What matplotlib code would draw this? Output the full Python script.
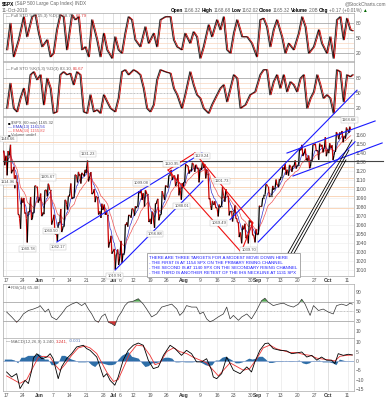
import numpy as np
import pandas as pd
import matplotlib
matplotlib.use("Agg")
import matplotlib.pyplot as plt
from matplotlib.collections import LineCollection

plt.rcParams['font.family'] = ['Liberation Sans', 'DejaVu Sans']

# $SPX daily OHLC, trading days 14-May-2010 .. 11-Oct-2010 (day index 0..103)
opens = [1140.50, 1136.52, 1138.52, 1119.57, 1107.34, 1067.26, 1084.78, 1067.42, 1075.51, 1074.27,
         1102.59, 1087.30, 1073.89, 1098.82, 1098.43, 1065.84, 1050.81, 1062.75, 1058.77, 1082.65,
         1095.00, 1091.21, 1114.02, 1115.98, 1116.16, 1122.79, 1113.90, 1095.57, 1090.93, 1075.10,
         1077.50, 1071.10, 1040.56, 1031.10, 1027.65, 1028.09, 1028.54, 1062.92, 1070.50, 1077.23,
         1080.65, 1095.61, 1094.46, 1093.85, 1066.85, 1064.53, 1086.67, 1072.14, 1092.17, 1102.89,
         1117.36, 1112.84, 1108.07, 1098.44, 1107.53, 1125.34, 1121.06, 1125.78, 1122.07, 1122.80,
         1122.92, 1116.89, 1081.48, 1082.22, 1077.49, 1081.16, 1092.08, 1092.44, 1075.63, 1073.36,
         1063.20, 1048.98, 1056.28, 1049.27, 1062.90, 1046.88, 1049.72, 1080.66, 1093.61, 1102.60,
         1092.36, 1101.15, 1104.57, 1113.38, 1121.16, 1119.43, 1123.89, 1126.39, 1126.57, 1142.82,
         1139.49, 1131.10, 1131.69, 1148.64, 1142.31, 1146.75, 1145.97, 1143.49, 1144.96, 1140.68,
         1159.81, 1161.57, 1158.36, 1165.32]
highs = [1142.10, 1141.88, 1148.66, 1124.27, 1107.34, 1090.16, 1089.95, 1074.75, 1090.75, 1103.52,
         1102.59, 1094.77, 1098.56, 1105.67, 1098.43, 1071.36, 1063.15, 1077.74, 1087.85, 1092.25,
         1105.91, 1115.59, 1118.74, 1117.72, 1121.01, 1131.23, 1118.50, 1099.64, 1090.93, 1083.56,
         1082.60, 1071.10, 1048.08, 1033.58, 1032.95, 1042.50, 1060.89, 1071.25, 1078.16, 1080.78,
         1097.50, 1099.08, 1098.66, 1093.85, 1074.70, 1083.94, 1088.96, 1097.50, 1103.73, 1115.01,
         1120.95, 1114.66, 1115.90, 1106.44, 1127.30, 1125.44, 1128.75, 1126.56, 1123.06, 1129.24,
         1127.16, 1116.89, 1086.72, 1086.25, 1082.62, 1101.73, 1099.77, 1092.44, 1075.63, 1081.58,
         1063.20, 1059.38, 1061.45, 1065.21, 1064.40, 1055.14, 1081.30, 1090.10, 1105.10, 1102.60,
         1103.26, 1110.27, 1110.88, 1123.87, 1127.36, 1126.46, 1125.44, 1131.47, 1144.86, 1148.59,
         1144.38, 1136.77, 1148.90, 1149.92, 1150.00, 1148.63, 1157.16, 1150.30, 1148.16, 1162.76,
         1162.33, 1163.87, 1167.73, 1168.68]
lows = [1126.14, 1114.96, 1117.20, 1100.66, 1071.58, 1055.90, 1072.70, 1040.78, 1065.59, 1074.27,
        1084.78, 1069.89, 1072.03, 1091.81, 1060.50, 1049.86, 1042.17, 1052.25, 1058.77, 1077.12,
        1089.03, 1091.21, 1107.13, 1105.87, 1113.93, 1108.24, 1094.18, 1085.31, 1071.60, 1067.89,
        1071.45, 1035.18, 1028.33, 1010.91, 1015.93, 1018.35, 1028.54, 1058.24, 1068.10, 1070.45,
        1080.65, 1087.68, 1080.53, 1063.32, 1061.11, 1056.88, 1065.25, 1072.14, 1087.88, 1101.30,
        1109.78, 1103.11, 1092.82, 1088.01, 1107.53, 1116.76, 1119.46, 1118.81, 1107.17, 1120.91,
        1111.58, 1088.55, 1076.69, 1079.00, 1069.49, 1081.16, 1085.76, 1070.66, 1063.91, 1067.08,
        1046.68, 1039.83, 1045.40, 1039.70, 1048.79, 1040.88, 1049.72, 1080.39, 1093.61, 1091.15,
        1092.36, 1101.15, 1101.73, 1113.38, 1115.58, 1114.63, 1118.88, 1122.43, 1126.57, 1136.22,
        1131.58, 1122.79, 1131.69, 1142.00, 1132.09, 1140.26, 1136.08, 1139.42, 1131.87, 1140.68,
        1154.85, 1151.41, 1155.58, 1162.02]
closes = [1135.68, 1136.94, 1120.80, 1115.05, 1071.59, 1087.69, 1073.65, 1074.03, 1067.95, 1103.06,
          1089.41, 1070.71, 1098.38, 1102.83, 1064.88, 1050.47, 1062.00, 1055.69, 1086.84, 1091.60,
          1089.63, 1115.23, 1114.61, 1116.04, 1117.51, 1113.20, 1095.31, 1092.04, 1073.69, 1076.76,
          1074.57, 1041.24, 1030.71, 1027.37, 1022.58, 1028.06, 1060.27, 1070.25, 1077.96, 1078.75,
          1095.34, 1095.17, 1096.48, 1064.88, 1071.25, 1083.48, 1069.59, 1093.67, 1102.66, 1115.01,
          1113.84, 1106.13, 1101.53, 1101.60, 1125.86, 1120.46, 1127.24, 1125.81, 1121.64, 1127.79,
          1121.06, 1089.47, 1083.61, 1079.25, 1079.38, 1092.54, 1094.16, 1075.63, 1071.69, 1067.36,
          1051.87, 1055.33, 1047.22, 1064.59, 1048.92, 1049.33, 1080.29, 1090.10, 1104.51, 1091.84,
          1098.87, 1104.18, 1109.55, 1121.90, 1121.10, 1125.07, 1124.66, 1125.59, 1142.71, 1139.78,
          1134.28, 1124.83, 1148.67, 1142.16, 1147.70, 1144.73, 1141.20, 1146.24, 1137.03, 1160.75,
          1159.97, 1158.06, 1165.15, 1165.32]

tick_days = [1, 6, 11, 15, 20, 25, 30, 33, 35, 39, 44, 49, 54, 59, 64, 69, 74, 76, 79, 83, 88, 93, 97, 103]
tick_text = ['17', '24', 'Jun', '7', '14', '21', '28', 'Jul', '6', '12', '19', '26', 'Aug', '9',
             '16', '23', '30', 'Sep', '7', '13', '20', '27', 'Oct', '11']

# Full STO panels (day position, %K)
sto1_x = [1.2, 2.2, 3.2, 4.7, 6.2, 7.2, 8.7, 9.7, 10.7, 11.7, 13.2, 14.2, 15.1, 16.1, 17.1, 18.1, 19.1,
          20.6, 21.6, 22.6, 23.6, 24.6, 25.6, 26.6, 28.1, 29.1, 30.1, 31.1, 32.6, 33.5, 34.5, 35.5,
          36.5, 37.5, 38.5, 39.5, 41.0, 42.5, 43.5, 45.0, 46.0, 47.0, 48.5, 50.0, 51.0, 52.0, 53.4,
          54.4, 55.9, 56.9, 57.9, 58.9, 59.9, 61.4, 62.4, 63.9, 64.9, 65.9, 66.9, 67.9, 68.9, 69.9,
          71.4, 72.9, 74.3, 75.8, 76.8, 77.8, 78.8, 79.8, 80.8, 81.8, 83.3, 84.3, 85.3, 86.8, 88.3,
          89.3, 90.3, 91.3, 92.8, 94.3, 95.2, 96.7, 97.7, 98.7, 99.7, 100.7, 101.7, 102.7, 103.7, 104.4]
sto1_k = [27, 80, 13, 47, 93, 53, 93, 97, 60, 33, 47, 13, 20, 67, 97, 93, 27,
          97, 87, 93, 27, 33, 13, 87, 47, 13, 60, 27, 10, 53, 27, 20,
          60, 93, 87, 47, 33, 73, 40, 60, 33, 87, 93, 93, 47, 33, 27,
          60, 40, 63, 53, 10, 33, 77, 53, 87, 67, 93, 27, 20, 60, 87,
          53, 53, 40, 13, 87, 90, 73, 33, 67, 87, 53, 20, 40, 27, 60,
          93, 73, 20, 33, 67, 40, 20, 53, 10, 87, 93, 47, 90, 67, 65]
sto2_x = [1.2, 2.2, 3.2, 4.2, 5.2, 6.2, 7.2, 8.2, 9.2, 10.2, 11.2, 12.2, 13.2, 14.2, 15.1, 16.1, 17.1,
          18.1, 19.1, 20.1, 21.1, 22.1, 23.1, 24.1, 25.1, 26.1, 27.1, 28.1, 29.1, 30.1, 31.1, 32.1,
          33.5, 34.5, 35.5, 36.5, 37.5, 39.0, 40.0, 41.0, 42.0, 43.0, 44.0, 45.0, 46.0, 47.0, 48.5,
          50.0, 51.0, 52.0, 53.4, 54.4, 55.9, 56.9, 57.9, 58.9, 59.9, 61.4, 62.4, 63.9, 64.9, 65.9,
          66.9, 67.9, 68.9, 69.9, 70.9, 72.4, 73.8, 75.3, 76.8, 77.8, 78.8, 79.8, 80.8, 81.8, 82.8,
          83.8, 84.8, 85.8, 86.8, 87.8, 88.8, 89.8, 90.8, 91.8, 92.8, 93.8, 94.7, 95.7, 96.7, 97.7,
          98.7, 99.7, 100.7, 101.7, 102.7, 103.7, 104.4]
sto2_k = [20, 70, 20, 13, 40, 60, 27, 87, 93, 77, 87, 27, 80, 60, 10, 13, 87,
          93, 87, 90, 67, 93, 87, 13, 10, 47, 13, 17, 10, 47, 33, 20,
          13, 40, 93, 97, 87, 97, 93, 87, 60, 20, 13, 27, 77, 97, 93,
          90, 60, 47, 20, 47, 93, 67, 47, 40, 20, 10, 27, 47, 60, 67,
          33, 60, 87, 80, 20, 27, 47, 53, 87, 97, 97, 47, 73, 87, 60,
          87, 53, 73, 67, 53, 80, 87, 20, 40, 53, 87, 67, 40, 47, 40,
          10, 97, 93, 33, 87, 83, 87]

# RSI(14)
rsi_x = [1.2, 2.7, 4.2, 5.2, 6.2, 7.7, 9.2, 10.7, 11.2, 12.7, 13.7, 14.6, 16.1, 17.6, 19.1, 20.6, 22.1,
         23.6, 24.6, 25.6, 26.6, 27.6, 28.6, 29.6, 30.6, 31.6, 32.6, 33.5, 34.5, 35.5, 36.5, 37.5,
         39.0, 40.5, 42.0, 43.0, 44.5, 46.0, 47.5, 49.0, 50.5, 52.0, 52.9, 53.9, 54.9, 56.4, 57.9,
         58.9, 59.9, 60.9, 61.9, 62.9, 64.4, 65.9, 66.9, 67.9, 68.9, 70.4, 71.4, 72.9, 74.3, 75.8,
         77.3, 78.3, 79.3, 80.8, 82.3, 83.8, 85.3, 86.8, 88.3, 89.3, 90.3, 91.8, 92.8, 94.3, 95.7,
         97.2, 98.7, 99.7, 101.2, 102.7, 103.7, 104.4]
rsi_v = [49, 39, 28, 35, 45, 52, 55, 59, 62, 49, 55, 39, 33, 45, 59, 65, 69,
         62, 67, 55, 45, 32, 28, 40, 45, 28, 25, 21, 39, 49, 62, 69,
         71, 76, 65, 55, 39, 45, 59, 62, 65, 55, 42, 49, 62, 59, 59,
         45, 49, 35, 29, 32, 39, 45, 59, 35, 42, 32, 39, 45, 35, 52,
         72, 77, 69, 62, 65, 67, 62, 59, 65, 75, 65, 42, 62, 52, 55,
         49, 45, 62, 65, 62, 67, 65]

# MACD(12,26,9)
macd_x = [1.2, 2.7, 4.2, 5.2, 6.7, 7.7, 8.7, 9.2, 10.2, 11.7, 13.2, 14.2, 15.1, 16.6, 17.6, 19.1, 20.6,
          22.1, 24.1, 25.1, 26.1, 28.1, 29.1, 30.1, 31.1, 32.1, 33.5, 34.5, 36.0, 37.5, 39.0, 40.5,
          42.0, 43.5, 45.0, 46.5, 48.0, 50.0, 51.5, 53.4, 54.9, 56.4, 57.9, 59.4, 60.9, 62.4, 62.9,
          63.9, 65.4, 66.9, 67.9, 68.9, 70.9, 72.9, 74.3, 75.3, 76.8, 78.3, 79.3, 80.8, 82.8, 84.8,
          86.3, 87.8, 89.3, 90.8, 92.3, 93.8, 95.2, 96.7, 98.2, 99.2, 100.2, 101.7, 103.2, 104.4]
macd_v = [-5.9, -8.6, -6.8, -14.8, -10.4, -12.1, -5.0, 1.5, 3.9, 1.2, 2.1, 3.9, 1.2, -9.5, -3.2, 1.2, 3.9,
          7.5, 8.4, 6.6, 5.7, 2.1, -3.2, -8.6, -6.8, -10.4, -13.0, -8.6, 0.4, 5.7, 8.4, 9.6,
          8.4, 0.4, -4.1, -3.2, 3.0, 8.4, 6.6, 3.0, 5.7, 3.9, -0.5, -0.5, 1.2, -5.0, -8.6,
          -9.5, -6.8, 2.1, -1.4, -5.0, -6.8, -3.2, -5.9, -0.5, 5.7, 9.3, 9.6, 6.6, 5.7, 5.4,
          3.9, 4.3, 4.8, 2.1, 3.0, 0.4, 2.1, 0.4, 0.4, -1.4, 3.9, 3.0, 3.6, 3.2]
signal_x = [1.2, 3.2, 5.2, 7.2, 9.2, 10.7, 12.2, 14.2, 15.6, 17.1, 18.6, 20.6, 22.6, 24.6, 26.1, 28.1,
            29.6, 31.1, 33.1, 34.5, 36.0, 38.0, 40.0, 42.0, 44.0, 45.5, 47.0, 49.0, 51.0, 52.9, 54.9,
            56.9, 58.9, 60.9, 62.9, 64.4, 65.9, 67.9, 69.9, 71.9, 73.8, 75.8, 77.8, 79.8, 81.8, 83.8,
            85.8, 87.8, 89.8, 91.8, 93.8, 95.7, 97.7, 99.2, 100.7, 102.7, 104.4]
signal_v = [-8, -10, -12, -10, -3, 2, 2.5, 2, -2, -5, -2, 3, 7, 8, 7, 4,
            -1, -6, -11, -10, -4, 4, 8.5, 8, 3, -2, -1, 5, 7, 5, 4,
            2, 0.5, -1, -5, -8, -5, -1, -3, -5, -4, 1, 7, 8.5, 6.5, 5.5,
            4.5, 4.5, 3.5, 3, 1.5, 1, 0.5, 0, 2.5, 3, 3.2]
hist_v = [1, 1, 1, 0.5, -1, 2, 2, 3, 3, 3, 4, 3, 1, 1, -2, -2, -1, 3, 3, 2,
          1, 0.5, -0.5, -0.5, -0.5, -0.3, -2, -3, -1, -1, -1.5, -2, -2, -1.5, 1, 3, 4, 5, 2.5, 2,
          1.5, -1, -3, -2.5, -1, -1, -0.5, 1.5, 2, 2, 1.5, -0.5, -0.5, -0.3, -0.5, -0.5, -0.5, -0.3, 0, -1,
          -2, -2.5, -2, 0.5, 0.5, 2, 2.5, 1.5, 0.5, -1, -1, -0.5, 0.5, 1.5, 1, 1.5, 2.5, 2.5, 1, -0.8,
          -0.8, -0.3, -0.3, -0.3, 0.3, -0.3, -0.3, 0, 0.5, -1, -1.5, -1, 0.3, 0, 0.5, -0.5, -0.5, -0.5, -1, -2,
          1, 0.5, 0, 0]

# high / low labels on the price panel: (day, price, text, above?)
price_labels = [(1.2, 1148.66, '1148.66', True), (1, 1114.96, '1114.96', False),
                (7, 1040.78, '1040.78', False), (13, 1105.67, '1105.67', True),
                (14, 1060.50, '1060.50', False), (16, 1042.17, '1042.17', False),
                (25, 1131.23, '1131.23', True), (33, 1010.91, '1010.91', False),
                (41, 1099.08, '1099.08', True), (45, 1056.88, '1056.88', False),
                (50, 1120.95, '1120.95', True), (53, 1088.01, '1088.01', False),
                (59, 1129.24, '1129.24', True), (64, 1069.49, '1069.49', False),
                (65, 1101.73, '1101.73', True), (73, 1039.70, '1039.70', False),
                (103, 1168.68, '1168.68', True)]

# hand drawn trend lines (day, price) pairs
blue_lines = [((16.2, 1041.3), (59.5, 1139.6)),
              ((33.6, 1010.3), (59.8, 1108.7)),
              ((67.9, 1066.0), (105.8, 1209.0)),
              ((76.3, 1041.3), (105.2, 1152.0)),
              ((84.9, 1139.6), (111.2, 1175.0)),
              ((86.7, 1114.2), (113.3, 1150.7))]
red_lines = [((57.4, 1139.6), (74.7, 1062.3)),
             ((49.4, 1120.8), (71.2, 1030.2)),
             ((49.4, 1120.8), (57.4, 1139.6)),
             ((71.2, 1030.2), (74.7, 1062.3))]
black_lines = [((85.2, 1029.1), (104.3, 1154.0)),
               ((85.8, 1026.9), (103.4, 1142.9)),
               ((86.4, 1024.7), (102.5, 1131.9))]
neckline = 1131
level_lines = [1152, 1124, 1112, 1102, 1092, 1079]

note = ("THERE ARE THREE TARGETS FOR A MODEST MOVE DOWN HERE\n"
        "- THE FIRST IS AT 1154 SPX ON THE PRIMARY RISING CHANNEL\n"
        "- THE SECOND IS AT 1140 SPX ON THE SECONDARY RISING CHANNEL\n"
        "- THE THIRD IS ANOTHER RETEST OF THE IHS NECKLINE AT 1131 SPX")

W, H = 390, 400
fig = plt.figure(figsize=(W / 100, H / 100), dpi=100)
XL = (0.12, 104.9)
FS = 3.6
GRAY = '#555555'


def panel(top, bot, ylim):
    ax = fig.add_axes([3 / W, 1 - bot / H, 351 / W, (bot - top) / H])
    ax.set_xlim(*XL)
    ax.set_ylim(*ylim)
    ax.yaxis.tick_right()
    ax.tick_params(axis='both', length=0, labelsize=FS, colors=GRAY, pad=1.5)
    for s in ax.spines.values():
        s.set_color('#aaaaaa')
        s.set_linewidth(0.5)
    ax.set_xticks(tick_days)
    ax.set_xticklabels([])
    for d, t in zip(tick_days, tick_text):
        month = not t.isdigit()
        ax.axvline(d, color='#c8c8c8' if month else '#e4e4e4', lw=0.4, zorder=0)
    return ax


def label_dates(ax):
    ax.set_xticklabels(tick_text)
    for lab in ax.get_xticklabels():
        if not lab.get_text().isdigit():
            lab.set_fontweight('bold')
            lab.set_color('#333333')


def run_text(x, y, parts, size=FS, gap=0.8):
    r = fig.canvas.get_renderer()
    for s, bold, col in parts:
        t = fig.text(x / W, 1 - y / H, s, fontsize=size, color=col, va='center',
                     fontweight='bold' if bold else 'normal')
        x += t.get_window_extent(r).width + gap


def sto_panel(ax, xs, ks):
    for lv in (30, 40, 60, 70):
        ax.axhline(lv, color='#f8d8c0', lw=0.5, zorder=0)
    for lv in (80, 20):
        ax.axhline(lv, color='#999999', lw=0.5, zorder=0)
    ax.axhline(50, color='#999999', lw=0.4, ls=(0, (3, 1, 1, 1)), zorder=0)
    ax.plot(xs, ks, color='#aaaaaa', lw=1.1)
    ax.plot(np.array(xs) + 0.35, ks, color='#cc0000', lw=0.6)
    ax.plot(xs, ks, color='black', lw=0.45)
    ax.set_yticks([20, 50, 80])


# header
run_text(2, 4, [('$SPX', True, 'black'), ('(S&P 500 Large Cap Index) INDX', False, '#666666')], 3.4)
run_text(2, 10.5, [('11-Oct-2010', False, '#666666')], 3.4)
fig.text(386 / W, 1 - 3.5 / H, '@StockCharts.com', fontsize=3.4, color='#666666', ha='right', va='center')
run_text(171, 10.5, [('Open', True, 'black'), ('1166.32', False, '#666666'), ('High', True, 'black'),
                     ('1168.68', False, '#666666'), ('Low', True, 'black'), ('1162.02', False, '#666666'),
                     ('Close', True, 'black'), ('1165.32', False, '#666666'), ('Volume', True, 'black'),
                     ('2.0B', False, '#666666'), ('Chg', True, 'black'), ('+0.17 (+0.01%)', False, '#666666'),
                     ('▲', False, '#006600')], 3.45, 0.7)

# stochastics
ax1 = panel(13, 61, (4.6, 100.6))
sto_panel(ax1, sto1_x, sto1_k)
run_text(6, 16, [('—', False, '#444444'), ('Full STO %K(15,3) %D(3) 68.74,', False, '#666666'),
                 ('64.79', False, '#dd3333')], 3.2)
ax2 = panel(62, 116, (4.6, 112.6))
sto_panel(ax2, sto2_x, sto2_k)
run_text(6, 69, [('—', False, '#444444'), ('Full STO %K(5,3) %D(3) 83.10,', False, '#666666'),
                 ('86.67', False, '#dd3333')], 3.2)

# price panel
ax3 = panel(117, 276, (1003.7, 1179.4))
ax3.set_yticks(range(1010, 1170, 10))
for lv in range(1010, 1170, 10):
    ax3.axhline(lv, color='#ececec', lw=0.4, zorder=0)
for lv in level_lines:
    ax3.axhline(lv, color='#f8d0b0', lw=0.6, zorder=1)
label_dates(ax3)
ax3.tick_params(axis='x', pad=1.2)

px, py = [], []
for i, (o, h, l, c) in enumerate(zip(opens, highs, lows, closes)):
    seq = [o, l, h, c] if c >= o else [o, h, l, c]
    px += [i + 0.08, i + 0.36, i + 0.64, i + 0.92]
    py += seq
px, py = np.array(px), np.array(py)
path = pd.Series(py)
ax3.plot(px, path.ewm(span=8).mean(), color='#3333cc', lw=0.5, zorder=3)
ax3.plot(px, path.ewm(span=21).mean(), color='#ee5555', lw=0.5, zorder=3)
segs = np.stack([np.column_stack([px[:-1], py[:-1]]), np.column_stack([px[1:], py[1:]])], axis=1)
cols = ['black' if b >= a else '#cc0000' for a, b in zip(py[:-1], py[1:])]
ax3.add_collection(LineCollection(segs, colors=cols, linewidths=0.9, zorder=4))

for d, p, t, up in price_labels:
    ax3.annotate(t, (d + 0.5, p), xytext=(0, 4.5 if up else -4.5), textcoords='offset points',
                 ha='center', va='center', fontsize=3.0, color='#555555', zorder=6,
                 bbox=dict(boxstyle='square,pad=0.25', fc='white', ec='#bbbbbb', lw=0.3))

ax3.plot([XL[0], 113.6], [neckline, neckline], color='#444444', lw=0.8, clip_on=False, zorder=5)
for (a, b) in blue_lines:
    ax3.plot([a[0], b[0]], [a[1], b[1]], color='#1a1aff', lw=0.8, clip_on=False, zorder=5)
for (a, b) in red_lines:
    ax3.plot([a[0], b[0]], [a[1], b[1]], color='#ee1111', lw=0.8, clip_on=False, zorder=5)
for (a, b) in black_lines:
    ax3.plot([a[0], b[0]], [a[1], b[1]], color='black', lw=0.6, clip_on=False, zorder=5)

ax3.text(43.7, 1005.0, note, fontsize=3.2, color='#1a1aff', va='bottom', ha='left', linespacing=1.35,
         family=['Liberation Sans Narrow', 'Liberation Sans', 'DejaVu Sans'], zorder=7,
         bbox=dict(boxstyle='square,pad=0.5', fc='white', ec='#888888', lw=0.5))

run_text(8, 123.3, [('■', False, 'black'), ('$SPX (60 min) 1165.32', False, '#555555')], 3.0)
run_text(8, 127.2, [('—', False, '#3333cc'), ('EMA(13) 1161.56', False, '#3333cc')], 3.0)
run_text(8, 131.1, [('—', False, '#ee5555'), ('EMA(34) 1155.82', False, '#ee5555')], 3.0)
run_text(8, 135.0, [('■', False, '#444444'), ('Volume undef', False, '#555555')], 3.0)

# RSI
ax4 = panel(284, 338, (-4, 106))
ax4.set_yticks([10, 30, 50, 70, 90])
for lv in (70, 30):
    ax4.axhline(lv, color='#999999', lw=0.5, zorder=0)
ax4.axhline(50, color='#999999', lw=0.4, ls=(0, (3, 1, 1, 1)), zorder=0)
rx, rv = np.array(rsi_x), np.array(rsi_v)
ax4.fill_between(rx, rv, 70, where=rv > 70, interpolate=True, color='#55aa55', lw=0)
ax4.fill_between(rx, rv, 30, where=rv < 30, interpolate=True, color='#cc3333', lw=0)
ax4.plot(rx, rv, color='#333333', lw=0.5)
run_text(6, 287.5, [('▲', False, '#333333'), ('RSI(14) 65.48', False, '#666666')], 3.2)

# MACD
ax5 = panel(338, 391, (-16.1, 12.3))
ax5.set_yticks([-15, -10, -5, 0, 5, 10])
label_dates(ax5)
ax5.tick_params(axis='x', pad=1.2)
hx = np.arange(len(hist_v)) + 0.5
ax5.fill_between(hx, hist_v, 0, color='#2f6fa8', lw=0)
ax5.axhline(0, color='#8fa8d0', lw=0.6)
ax5.plot(signal_x, signal_v, color='#ee3333', lw=0.6)
ax5.plot(macd_x, macd_v, color='black', lw=0.6)
run_text(6, 341.5, [('—', False, '#444444'), ('MACD(12,26,9) 3.240,', False, '#666666'),
                    ('3.241,', False, '#dd3333'), ('-0.001', False, '#5577bb')], 3.2)

fig.savefig('out.png', dpi=100)
